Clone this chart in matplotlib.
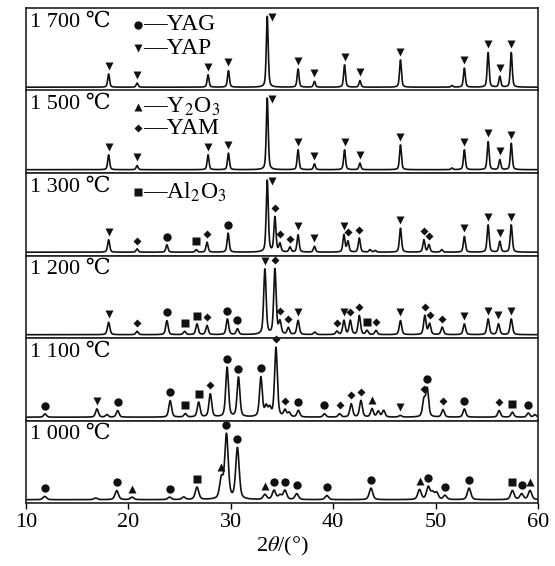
import numpy as np
import matplotlib
matplotlib.use('Agg')
import matplotlib.pyplot as plt

plt.rcParams['font.family'] = ['Liberation Serif', 'DejaVu Serif', 'Noto Sans CJK SC']
plt.rcParams['mathtext.fontset'] = 'stix'

# peak positions (2theta), heights (fraction of panel) and phase code for each temperature
# G = YAG, P = YAP, Y = Y2O3, M = YAM, A = Al2O3, '' = no symbol
pos_1700 = [18.07, 20.85, 27.78, 29.77, 33.56, 36.57, 38.17, 41.11, 42.61, 46.57, 51.6, 52.81, 55.13, 56.27, 57.39]
h_1700 = [0.16, 0.05, 0.15, 0.20, 0.86, 0.22, 0.07, 0.27, 0.08, 0.33, 0.02, 0.23, 0.42, 0.13, 0.42]
ph_1700 = ['P', 'P', 'P', 'P', 'P', 'P', 'P', 'P', 'P', 'P', '', 'P', 'P', 'P', 'P']

pos_1500 = [18.07, 20.85, 27.78, 29.77, 33.56, 36.57, 38.17, 41.11, 42.61, 46.57, 51.6, 52.81, 55.13, 56.27, 57.39]
h_1500 = [0.18, 0.05, 0.18, 0.20, 0.87, 0.24, 0.07, 0.24, 0.08, 0.30, 0.02, 0.24, 0.34, 0.12, 0.32]
ph_1500 = ['P', 'P', 'P', 'P', 'P', 'P', 'P', 'P', 'P', 'P', '', 'P', 'P', 'P', 'P']

pos_1300 = [18.07, 20.85, 23.76, 26.63, 27.68, 29.74, 33.56, 34.31, 34.8, 35.78, 36.57, 38.17, 41.05, 41.44,
            42.55, 43.6, 44.1, 46.57, 48.86, 49.35, 50.6, 52.81, 55.13, 56.27, 57.39]
h_1300 = [0.15, 0.04, 0.09, 0.03, 0.12, 0.23, 0.87, 0.42, 0.10, 0.06, 0.21, 0.07, 0.21, 0.13,
          0.17, 0.03, 0.02, 0.29, 0.15, 0.09, 0.03, 0.19, 0.33, 0.13, 0.33]
ph_1300 = ['P', 'M', 'G', 'A', 'M', 'G', 'P', 'M', 'M', 'M', 'P', 'P', 'P', 'M',
           'M', '', '', 'P', 'M', 'M', '', 'P', 'P', 'P', 'P']

pos_1200 = [18.07, 20.85, 23.76, 25.49, 26.7, 27.68, 29.67, 30.65, 33.33, 34.31, 34.8, 35.62, 36.57, 38.2,
            40.36, 41.05, 41.67, 42.55, 43.3, 44.18, 46.57, 48.95, 49.41, 50.65, 52.81, 55.13, 56.14, 57.39]
h_1200 = [0.15, 0.04, 0.17, 0.04, 0.13, 0.11, 0.19, 0.07, 0.79, 0.79, 0.15, 0.08, 0.17, 0.03,
          0.04, 0.17, 0.17, 0.23, 0.05, 0.05, 0.17, 0.23, 0.13, 0.09, 0.13, 0.19, 0.13, 0.19]
ph_1200 = ['P', 'M', 'G', 'A', 'A', 'M', 'G', 'G', 'P', 'M', 'M', 'M', 'P', '',
           'M', 'P', 'M', 'M', 'A', 'M', 'P', 'M', 'M', 'M', 'P', 'P', 'P', 'P']

pos_1100 = [11.86, 16.93, 17.9, 18.95, 24.08, 25.56, 26.86, 28.0, 29.64, 30.75, 32.94, 33.45, 33.8,
            34.41, 35.29, 35.7, 36.6, 39.15, 40.62, 41.76, 42.71, 43.79, 44.4, 44.93, 46.54,
            48.86, 49.18, 50.72, 52.81, 56.2, 57.5, 59.05, 59.7]
h_1100 = [0.04, 0.10, 0.03, 0.08, 0.20, 0.04, 0.18, 0.28, 0.60, 0.48, 0.48, 0.12, 0.10,
          0.84, 0.08, 0.05, 0.08, 0.04, 0.04, 0.16, 0.20, 0.10, 0.07, 0.08, 0.02,
          0.20, 0.34, 0.09, 0.10, 0.08, 0.06, 0.05, 0.03]
ph_1100 = ['G', 'P', '', 'G', 'G', 'A', 'A', 'M', 'G', 'G', 'G', '', '',
           'M', 'M', '', 'G', 'G', 'M', 'M', 'M', 'Y', '', '', 'P',
           'M', 'G', 'M', 'G', 'M', 'A', 'G', '']

pos_1000 = [11.83, 16.8, 18.86, 20.36, 24.02, 25.4, 26.7, 29.08, 29.58, 30.65, 33.33, 34.22, 34.8, 35.29,
            36.44, 39.38, 43.69, 48.43, 49.28, 49.7, 50.1, 50.92, 53.27, 57.5, 58.4, 59.22]
h_1000 = [0.04, 0.02, 0.11, 0.03, 0.03, 0.03, 0.15, 0.24, 0.78, 0.62, 0.06, 0.11, 0.05, 0.11,
          0.07, 0.05, 0.14, 0.12, 0.15, 0.08, 0.08, 0.05, 0.14, 0.11, 0.07, 0.11]
ph_1000 = ['G', '', 'G', 'Y', 'G', '', 'A', 'Y', 'G', 'G', 'Y', 'G', '', 'G',
           'G', 'G', 'G', 'Y', 'G', '', '', 'G', 'G', 'A', 'G', 'Y']

temps = ['1 700 \u2103', '1 500 \u2103', '1 300 \u2103', '1 200 \u2103', '1 100 \u2103', '1 000 \u2103']
panels = [(pos_1700, h_1700, ph_1700), (pos_1500, h_1500, ph_1500), (pos_1300, h_1300, ph_1300),
          (pos_1200, h_1200, ph_1200), (pos_1100, h_1100, ph_1100), (pos_1000, h_1000, ph_1000)]
widths = [0.11, 0.11, 0.12, 0.14, 0.16, 0.2]

symbols = {'G': ('o', 6.0), 'P': ('v', 6.0), 'Y': ('^', 6.0), 'M': ('D', 4.2), 'A': ('s', 5.5)}


def profile(x, p, h, w):
    u = (x - p) / w
    return h * (0.55 * np.exp(-np.log(2) * u ** 2) + 0.45 / (1 + u ** 2))


W, H = 555, 566
fig = plt.figure(figsize=(W / 100, H / 100), dpi=100)
left, right, top, bottom = 26, 538, 8, 503
ph = (bottom - top) / 6
x = np.linspace(10, 60, 4000)

for i, (pos, hts, phs) in enumerate(panels):
    y0 = top + i * ph
    ax = fig.add_axes([left / W, 1 - (y0 + ph) / H, (right - left) / W, ph / H])
    y = np.zeros_like(x)
    for p, h in zip(pos, hts):
        y += profile(x, p, h, widths[i])
    ax.plot(x, y, color='#111111', lw=1.2)
    for p, h, s in zip(pos, hts, phs):
        if not s:
            continue
        yc = np.interp(p, x, y)
        mk, ms = symbols[s]
        if yc + 0.1 > 0.95:
            mx, my = p + 0.45, yc - 0.01
        else:
            mx, my = p, yc + 0.1
        ax.plot(mx, my, marker=mk, ms=ms, color='#111111', mec='none', clip_on=False)
    ax.set_xlim(10, 60)
    ax.set_ylim(-0.04, 0.96)
    ax.set_yticks([])
    for sp in ax.spines.values():
        sp.set_linewidth(1.2)
        sp.set_color('#222222')
    ax.text(0.008, 0.83, temps[i], transform=ax.transAxes, fontsize=16, va='center', ha='left')
    if i < 5:
        ax.set_xticks([])
    else:
        ax.set_xticks([10, 20, 30, 40, 50, 60])
        ax.tick_params(axis='x', direction='out', length=4, width=1, labelsize=16, pad=3)
        ax.set_xlabel(r'2$\mathit{\theta}$/(°)', fontsize=16, labelpad=2)

# legend drawn in pixel coordinates
ov = fig.add_axes([0, 0, 1, 1])
ov.set_xlim(0, W)
ov.set_ylim(H, 0)
ov.axis('off')
ov.patch.set_visible(False)
legend_items = [('G', 'YAG', 25), ('P', 'YAP', 48), ('Y', 'Y$_2$O$_3$', 107), ('M', 'YAM', 128), ('A', 'Al$_2$O$_3$', 192)]
for s, lab, yy in legend_items:
    mk, ms = symbols[s]
    ov.plot(138, yy, marker=mk, ms=ms, color='#111111', mec='none')
    ov.text(143, yy, '\u2014' + lab, fontsize=17, va='center', ha='left')

fig.savefig('out.png', dpi=100)
